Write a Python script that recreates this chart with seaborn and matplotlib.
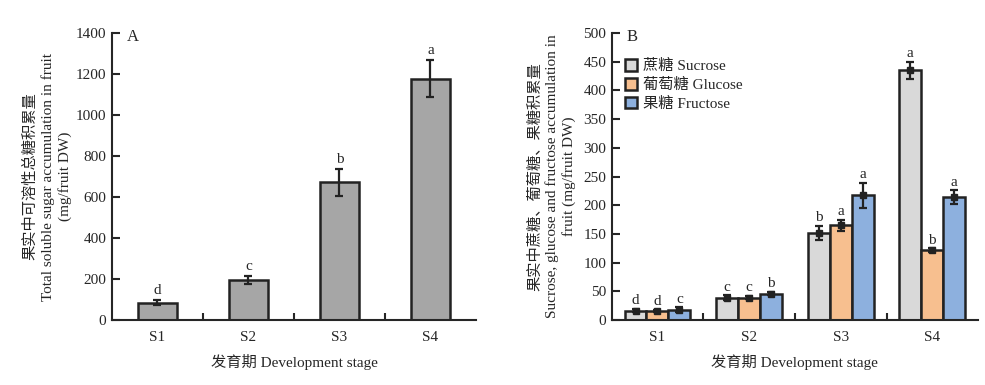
import numpy as np
import pandas as pd
import matplotlib
matplotlib.use('Agg')
import matplotlib.pyplot as plt
import seaborn as sns

# Data
stages = ['S1', 'S2', 'S3', 'S4']
total_sugar = [85, 195, 672, 1178]
total_err = [12, 20, 65, 90]
total_letters = ['d', 'c', 'b', 'a']

sugars = ['蔗糖 Sucrose', '葡萄糖 Glucose', '果糖 Fructose']
sucrose = [16, 39, 152, 435]
glucose = [15, 39, 165, 122]
fructose = [18, 46, 217, 214]
sucrose_err = [3, 4, 12, 15]
glucose_err = [2, 3, 10, 3]
fructose_err = [4, 3, 22, 12]
sucrose_letters = ['d', 'c', 'b', 'a']
glucose_letters = ['d', 'c', 'a', 'b']
fructose_letters = ['c', 'b', 'a', 'a']

sns.set_style('ticks')
plt.rcParams['font.family'] = ['Liberation Serif', 'Noto Sans CJK SC']
plt.rcParams['axes.linewidth'] = 1.5
fs = 11

fig = plt.figure(figsize=(9.85, 3.85), dpi=100)
axA = fig.add_axes([0.1137, 0.169, 0.3695, 0.745])
axB = fig.add_axes([0.621, 0.169, 0.372, 0.745])


def style_axis(ax, ymax, step):
    sns.despine(ax=ax)
    ax.set_xlim(-0.5, 3.5)
    ax.set_ylim(0, ymax)
    ax.set_yticks(np.arange(0, ymax + 1, step))
    ax.tick_params(axis='y', direction='in', length=6, width=1.5, labelsize=fs, pad=4)
    ax.tick_params(axis='x', which='major', length=0, labelsize=fs, pad=8)
    ax.set_xticks([0.5, 1.5, 2.5], minor=True)
    ax.tick_params(axis='x', which='minor', direction='in', length=5, width=1.5)
    ax.set_xlabel('发育期 Development stage', fontsize=fs, labelpad=7)


# Panel A
dfA = pd.DataFrame({'stage': stages, 'value': total_sugar})
sns.barplot(data=dfA, x='stage', y='value', color='#a6a6a6', width=0.42,
            edgecolor='#222222', linewidth=1.8, saturation=1, ax=axA)
axA.errorbar(range(4), total_sugar, yerr=total_err, fmt='none',
             ecolor='#222222', elinewidth=1.6, capsize=3, capthick=1.6)
for i, (v, e, t) in enumerate(zip(total_sugar, total_err, total_letters)):
    axA.text(i, v + e + 15, t, ha='center', va='bottom', fontsize=fs)
style_axis(axA, 1400, 200)
axA.set_ylabel('果实中可溶性总糖积累量\nTotal soluble sugar accumulation in fruit\n(mg/fruit DW)',
               fontsize=fs, labelpad=3, linespacing=1.3)
axA.text(0.04, 0.985, 'A', transform=axA.transAxes, fontsize=fs + 1, va='center')

# Panel B
dfB = pd.DataFrame({
    'stage': stages * 3,
    'sugar': [sugars[0]] * 4 + [sugars[1]] * 4 + [sugars[2]] * 4,
    'value': sucrose + glucose + fructose,
})
palette = ['#d9d9d9', '#f7bf8f', '#8db0de']
sns.barplot(data=dfB, x='stage', y='value', hue='sugar', palette=palette,
            width=0.72, edgecolor='#222222', linewidth=1.8, saturation=1, ax=axB)
errs = [sucrose_err, glucose_err, fructose_err]
vals = [sucrose, glucose, fructose]
lets = [sucrose_letters, glucose_letters, fructose_letters]
bar_groups = list(axB.containers)
for k, cont in enumerate(bar_groups):
    xs = [p.get_x() + p.get_width() / 2 for p in cont.patches]
    axB.errorbar(xs, vals[k], yerr=errs[k], fmt='none', ecolor='#222222',
                 elinewidth=1.6, capsize=3, capthick=1.6)
    axB.plot(xs, vals[k], 's', color='#222222', ms=4)
    for x, v, e, t in zip(xs, vals[k], errs[k], lets[k]):
        axB.text(x, v + e + 3, t, ha='center', va='bottom', fontsize=fs)
style_axis(axB, 500, 50)
axB.set_ylabel('果实中蔗糖、葡萄糖、果糖积累量\nSucrose, glucose and fructose accumulation in\nfruit (mg/fruit DW)',
               fontsize=fs, labelpad=5, linespacing=1.3)
axB.text(0.04, 0.985, 'B', transform=axB.transAxes, fontsize=fs + 1, va='center')
leg = axB.legend(loc='upper left', bbox_to_anchor=(0.02, 0.93), frameon=False,
                 fontsize=fs, handlelength=0.8, handleheight=0.8,
                 handletextpad=0.4, labelspacing=0.3, borderaxespad=0)
for h in leg.legend_handles:
    h.set_linewidth(1.8)

fig.savefig('out.png', dpi=100)
